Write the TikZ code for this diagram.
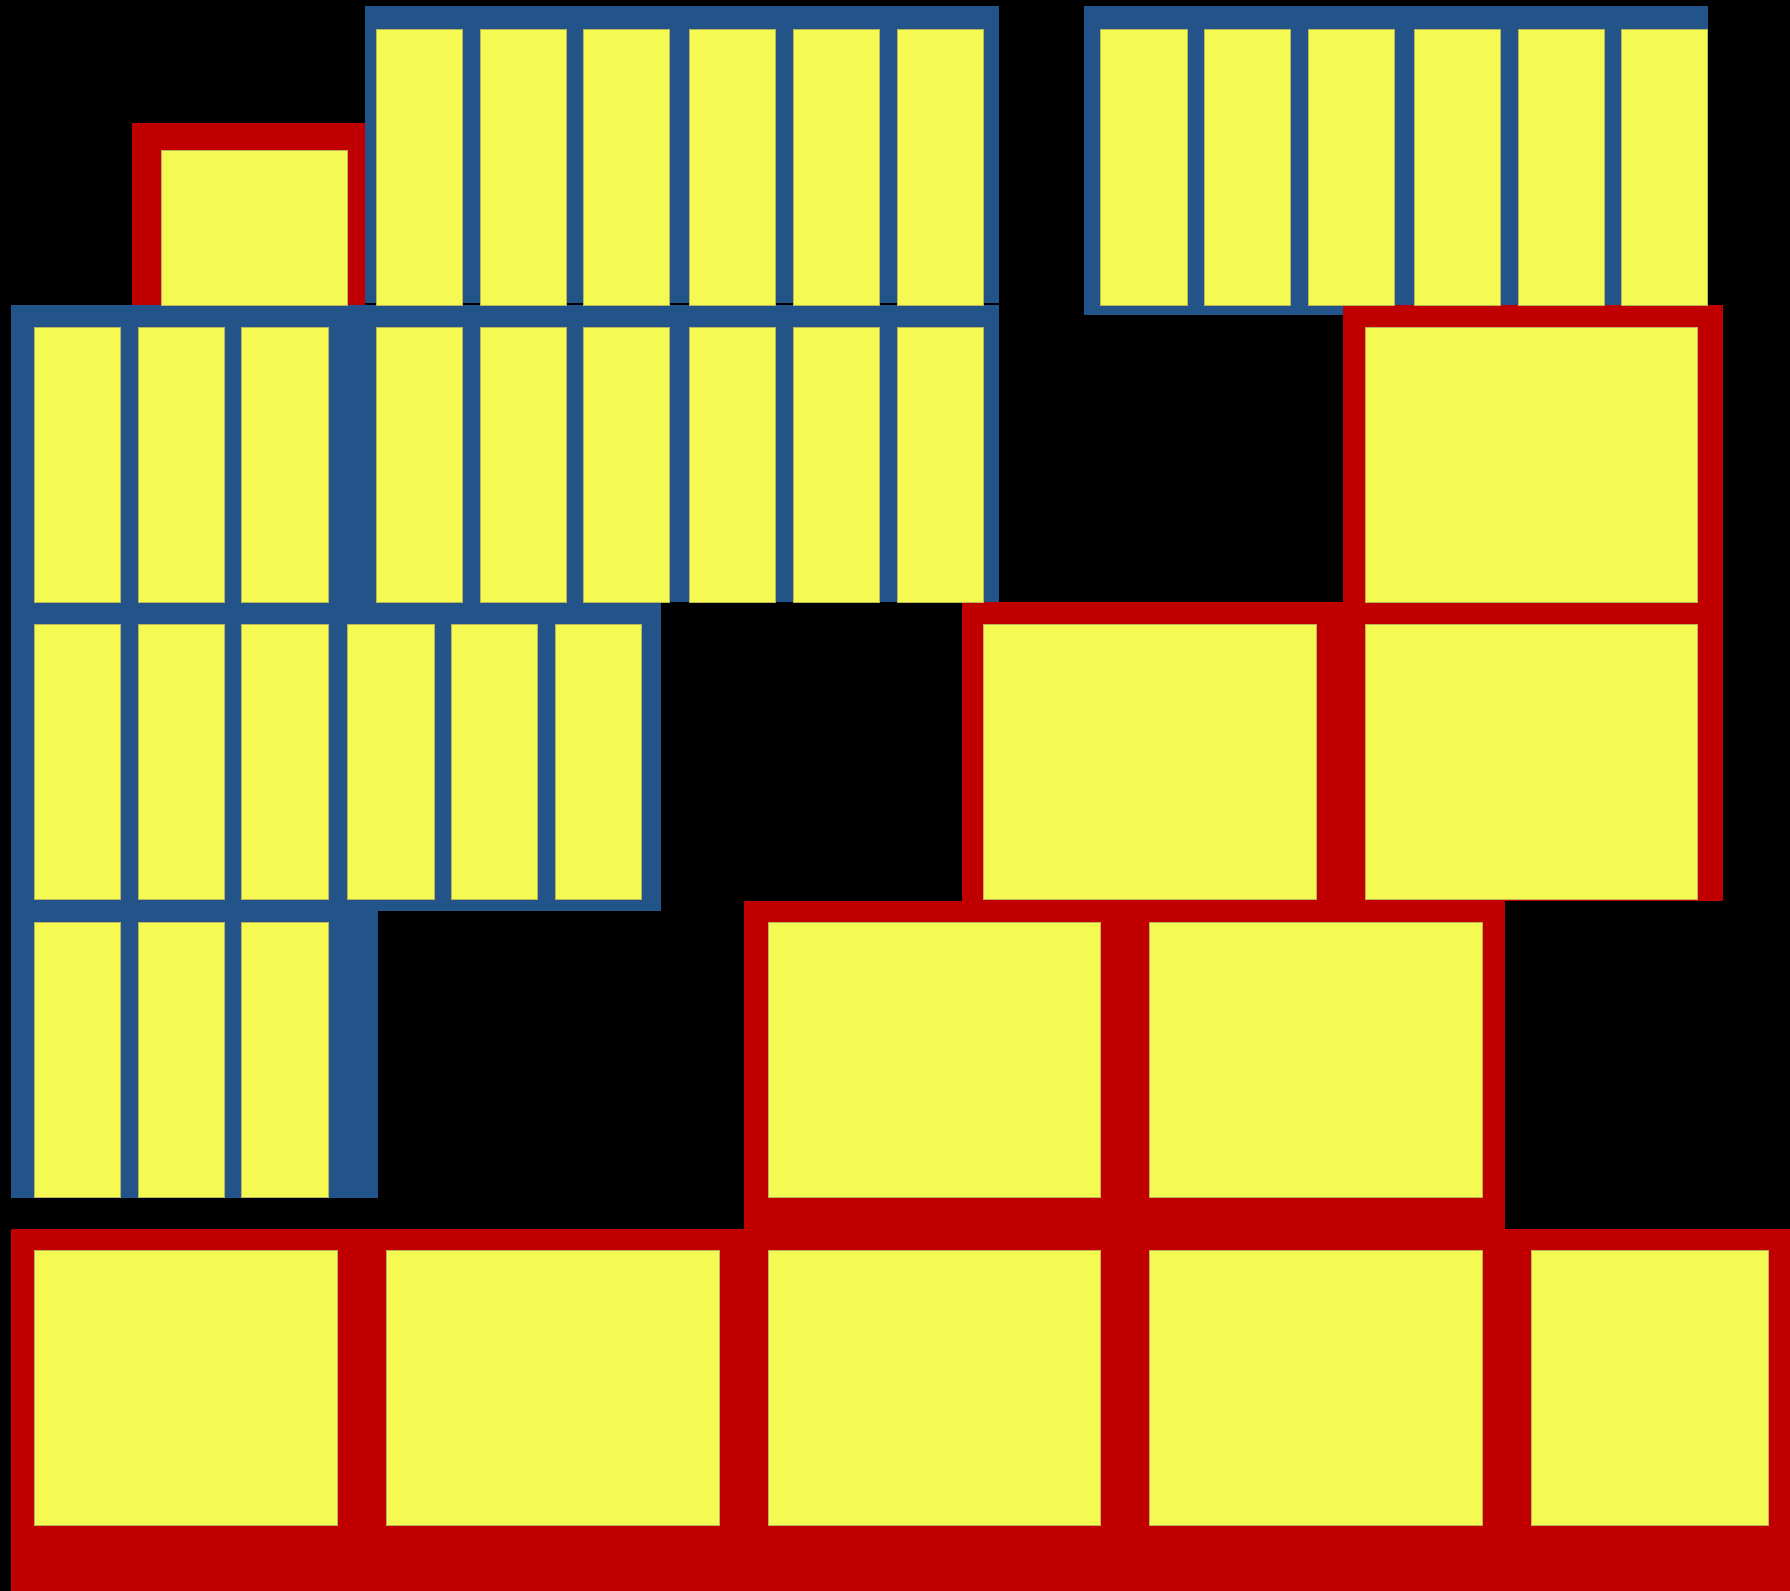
\documentclass[tikz,border=0pt]{standalone}
\usepackage{xcolor}
\definecolor{bgblack}{RGB}{0,0,0}
\definecolor{cellyellow}{RGB}{244,250,82}
\definecolor{frameblue}{RGB}{34,83,137}
\definecolor{framered}{RGB}{192,0,0}
\definecolor{celledge}{RGB}{190,180,90}
\begin{document}
\begin{tikzpicture}[x=0.01cm,y=-0.01cm,
  bluebox/.style={fill=frameblue},
  redbox/.style={fill=framered},
  cellbox/.style={fill=cellyellow,draw=celledge,line width=0.2pt}]
\fill[bgblack] (0,0) rectangle (1790,1591);
\useasboundingbox (0,0) rectangle (1790,1591);
% blue frames
\fill[bluebox] (365,6) rectangle (999,303.3);
\fill[bluebox] (1084,6) rectangle (1707.7,315.1);
\fill[bluebox] (11.1,305.1) rectangle (999,602.3);
\fill[bluebox] (11.1,602.3) rectangle (661.2,911.2);
\fill[bluebox] (11.1,911.2) rectangle (378.4,1197.5);
% red frames
\fill[redbox] (131.6,122.9) rectangle (365,305.1);
\fill[redbox] (1342.7,305.1) rectangle (1723,901.2);
\fill[redbox] (962.3,602.3) rectangle (1342.7,901.2);
\fill[redbox] (744.2,901.2) rectangle (1504.9,1229.0);
\fill[redbox] (11.1,1229.0) rectangle (1790,1591);
% top blue block A
\foreach \x in {376.5,479.9,583.6,689.5,793.2,896.9}
  \draw[cellbox] (\x,29.6) rectangle ++(86.1,275.5);
% top blue block B
\foreach \x in {1100.8,1204.2,1307.9,1413.9,1517.9,1621.2}
  \draw[cellbox] (\x,29.6) rectangle ++(86.3,275.5);
% small red box C
\draw[cellbox] (161.5,150.5) rectangle (347.8,305.1);
% blue row 2
\foreach \x in {34.4,138.1,241.8,376.5,479.9,583.6,689.5,793.2,896.9}
  \draw[cellbox] (\x,327.2) rectangle ++(86.1,275.1);
% blue row 3
\foreach \x in {34.4,138.1,241.8,347.8,451.5,554.9}
  \draw[cellbox] (\x,624.4) rectangle ++(86.3,275.1);
% blue row 4
\foreach \x in {34.4,138.1,241.8}
  \draw[cellbox] (\x,921.9) rectangle ++(86.1,275.6);
% red right block E
\draw[cellbox] (1364.9,327.2) rectangle (1697.8,602.3);
\draw[cellbox] (1364.9,624.4) rectangle (1697.8,899.5);
% red block F
\draw[cellbox] (983.0,624.4) rectangle (1315.9,899.5);
% red block G
\draw[cellbox] (767.9,921.9) rectangle (1100.5,1197.5);
\draw[cellbox] (1149.4,921.9) rectangle (1482.7,1197.5);
% red bottom row H
\draw[cellbox] (34.4,1250.0) rectangle (337.1,1525.3);
\draw[cellbox] (386.1,1250.0) rectangle (719.0,1525.3);
\draw[cellbox] (767.9,1250.0) rectangle (1100.5,1525.3);
\draw[cellbox] (1149.4,1250.0) rectangle (1482.7,1525.3);
\draw[cellbox] (1531.3,1250.0) rectangle (1768.2,1525.3);
\end{tikzpicture}
\end{document}
